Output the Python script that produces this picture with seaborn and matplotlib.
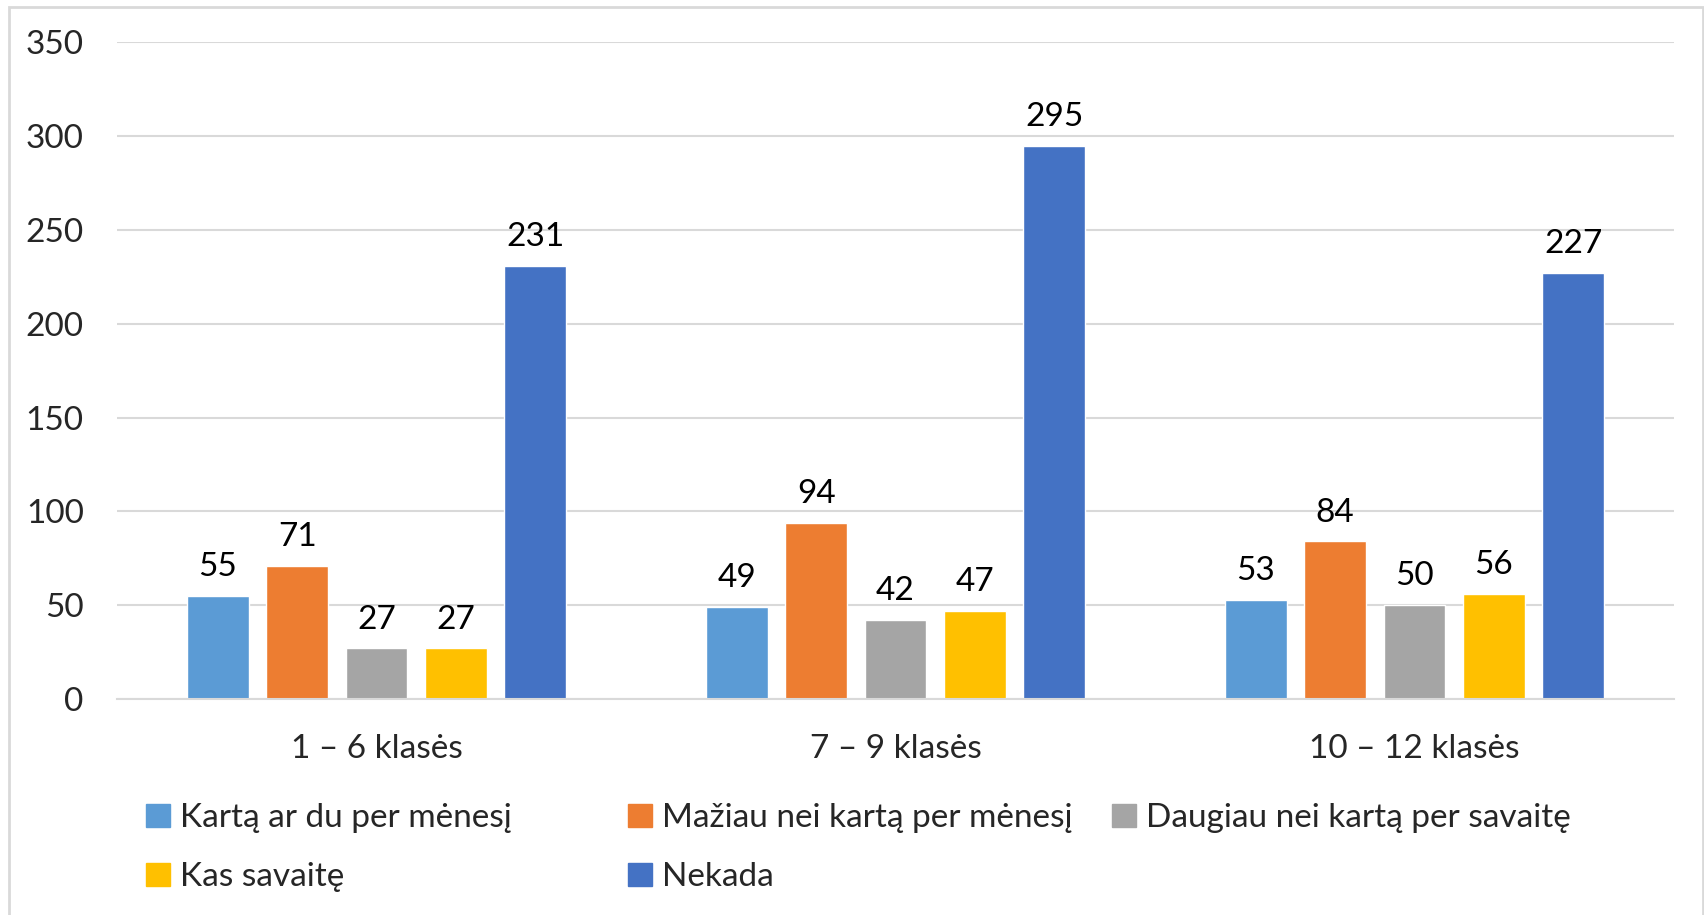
import numpy as np
import pandas as pd
import matplotlib
matplotlib.use("Agg")
import matplotlib.pyplot as plt
import matplotlib.patches as mpatches
import seaborn as sns

# data
groups = ["1 – 6 klasės", "7 – 9 klasės", "10 – 12 klasės"]
series = ["Kartą ar du per mėnesį", "Mažiau nei kartą per mėnesį",
          "Daugiau nei kartą per savaitę", "Kas savaitę", "Nekada"]
karta_ar_du = [55, 49, 53]
maziau = [71, 94, 84]
daugiau = [27, 42, 50]
kas_savaite = [27, 47, 56]
nekada = [231, 295, 227]
colors = ["#5B9BD5", "#ED7D31", "#A5A5A5", "#FFC000", "#4472C4"]

values = [karta_ar_du, maziau, daugiau, kas_savaite, nekada]
rows = []
for s, vals in zip(series, values):
    for g, v in zip(groups, vals):
        rows.append({"Grupė": g, "Dažnis": s, "Skaičius": v})
df = pd.DataFrame(rows)

sns.set_style("white")
plt.rcParams['font.family'] = ['Lato', 'DejaVu Sans']
fs = 24

fig = plt.figure(figsize=(17.04, 9.15), dpi=100)
ax = fig.add_axes([0.0687, 0.236, 0.9137, 0.7177])

sns.barplot(data=df, x="Grupė", y="Skaičius", hue="Dažnis", order=groups,
            hue_order=series, palette=colors, width=0.764, gap=0.22,
            saturation=1, legend=False, ax=ax)

for c in ax.containers:
    ax.bar_label(c, padding=10, fontsize=fs, color="#000000")

ax.set_ylim(0, 350)
ax.set_yticks(np.arange(0, 351, 50))
ax.set_xlim(-0.5, 2.5)
ax.yaxis.grid(True, color="#D9D9D9", linewidth=1.5)
ax.set_axisbelow(True)
for sp in ["top", "right", "left"]:
    ax.spines[sp].set_visible(False)
ax.spines["bottom"].set_color("#D9D9D9")
ax.spines["bottom"].set_linewidth(1.5)
ax.tick_params(axis="y", length=0, pad=24, labelsize=fs)
ax.tick_params(axis="x", length=0, pad=25, labelsize=fs)
ax.set_xlabel("")
ax.set_ylabel("")

# legend: three columns placed like the original
cols = [[0, 3], [1, 4], [2]]
xs = [0.078, 0.361, 0.645]
for xpos, idx in zip(xs, cols):
    handles = [mpatches.Patch(color=colors[i], label=series[i]) for i in idx]
    fig.legend(handles=handles, loc="upper left", bbox_to_anchor=(xpos, 0.137),
               frameon=False, fontsize=fs, handlelength=0.7, handleheight=0.7,
               handletextpad=0.3, labelspacing=0.88, borderaxespad=0)

fig.patches.append(mpatches.Rectangle((9 / 1704, -0.01), 1694 / 1704, 1 - 7 / 915 + 0.01,
                                      transform=fig.transFigure, fill=False,
                                      edgecolor="#D9D9D9", linewidth=2))

fig.savefig("out.png", dpi=100)
